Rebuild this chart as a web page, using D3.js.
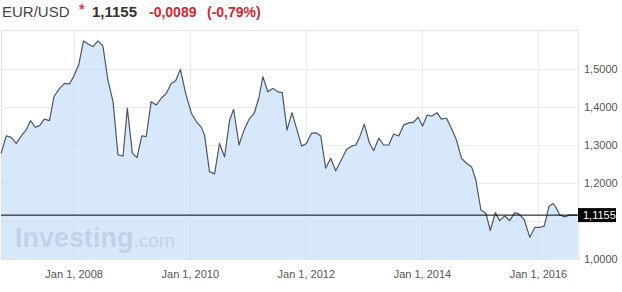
<!DOCTYPE html>
<html>
<head>
<meta charset="utf-8">
<script src="https://cdn.jsdelivr.net/npm/d3@7"></script>
<style>
  body { margin: 0; background: #fff; }
  svg { display: block; font-family: "Liberation Sans", Arial, sans-serif; }
</style>
</head>
<body>
<script>
// EUR/USD, valeurs (environ une par mois)
var dates = [
"2006-10-02","2006-11-03","2006-12-04","2007-01-05","2007-02-06","2007-03-07","2007-04-04","2007-05-05","2007-06-01","2007-07-01",
"2007-08-02","2007-08-30","2007-10-01","2007-11-05","2007-12-06","2008-01-01","2008-02-02","2008-03-03","2008-04-01","2008-05-01",
"2008-06-02","2008-07-03","2008-08-04","2008-09-05","2008-10-06","2008-11-07","2008-12-04","2009-01-05","2009-02-03","2009-03-05",
"2009-04-02","2009-05-03","2009-06-04","2009-07-05","2009-08-06","2009-09-07","2009-10-04","2009-11-03","2009-12-06","2010-01-12",
"2010-02-12","2010-03-14","2010-04-04","2010-05-05","2010-06-06","2010-07-07","2010-08-08","2010-09-09","2010-10-04","2010-11-07",
"2010-12-08","2011-01-09","2011-02-10","2011-03-11","2011-04-06","2011-05-07","2011-06-08","2011-07-09","2011-08-06","2011-09-05",
"2011-10-06","2011-11-07","2011-12-06","2012-01-05","2012-02-06","2012-03-07","2012-04-04","2012-05-05","2012-06-06","2012-07-07",
"2012-08-13","2012-09-14","2012-10-15","2012-11-11","2012-12-06","2013-01-03","2013-02-04","2013-03-03","2013-04-04","2013-05-05",
"2013-06-06","2013-07-07","2013-08-08","2013-09-09","2013-10-16","2013-11-07","2013-12-08","2014-01-05","2014-02-03","2014-03-05",
"2014-04-06","2014-05-03","2014-06-04","2014-07-05","2014-08-06","2014-09-07","2014-10-08","2014-11-09","2014-12-06","2015-01-07",
"2015-02-08","2015-03-07","2015-04-08","2015-05-05","2015-06-06","2015-07-07","2015-08-08","2015-09-05","2015-10-06","2015-11-11",
"2015-12-12","2016-01-14","2016-02-10","2016-03-11","2016-04-06","2016-04-27","2016-05-17","2016-06-18","2016-07-19","2016-09-06"
];
var rates = [
1.278,1.324,1.320,1.304,1.324,1.339,1.364,1.347,1.351,1.368,
1.364,1.427,1.447,1.462,1.461,1.480,1.511,1.574,1.566,1.559,
1.574,1.561,1.471,1.414,1.274,1.271,1.397,1.278,1.267,1.324,
1.322,1.414,1.405,1.423,1.436,1.462,1.469,1.499,1.436,1.383,
1.361,1.347,1.326,1.230,1.224,1.304,1.269,1.366,1.394,1.300,
1.339,1.368,1.383,1.423,1.480,1.440,1.449,1.440,1.438,1.339,
1.385,1.339,1.297,1.304,1.331,1.332,1.324,1.239,1.265,1.232,
1.262,1.289,1.297,1.300,1.322,1.355,1.306,1.285,1.318,1.300,
1.300,1.329,1.324,1.353,1.359,1.359,1.373,1.350,1.379,1.376,
1.385,1.368,1.371,1.344,1.313,1.265,1.252,1.243,1.208,1.129,
1.120,1.075,1.122,1.101,1.113,1.101,1.122,1.118,1.104,1.057,
1.083,1.083,1.087,1.139,1.146,1.133,1.116,1.111,1.116,1.1155
];
var yTicks = [1.0, 1.2, 1.3, 1.4, 1.5];
var yGrid = [1.1, 1.2, 1.3, 1.4, 1.5];
var xTicks = ["2008-01-01","2010-01-01","2012-01-01","2014-01-01","2016-01-01"];
var lastRate = 1.1155;
var header = { pair: "EUR/USD", price: "1,1155", change: "-0,0089", pct: "(-0,79%)" };

var larg = 622, haut = 292;
var pLeft = 1, pRight = 578, pTop = 31, pBottom = 259;

var parse = d3.timeParse("%Y-%m-%d");
var data = dates.map(function(d, i) { return { date: parse(d), v: rates[i] }; });

var fr = d3.formatLocale({ decimal: ",", thousands: " ", grouping: [3], currency: ["", "€"] });
var fmt = fr.format(".4f");

var xScale = d3.scaleTime()
	.domain([parse("2006-10-01"), parse("2016-09-09")])
	.range([pLeft, pRight]);

var yScale = d3.scaleLinear()
	.domain([1.0, 1.6])
	.range([pBottom, pTop]);

var svg = d3.select("body")
	.append("svg")
	.attr("width", larg)
	.attr("height", haut);

// en-tête
svg.append("text").attr("x", 2).attr("y", 17).attr("font-size", "15px")
	.attr("fill", "#444").text(header.pair);
svg.append("text").attr("x", 79).attr("y", 14).attr("font-size", "14px").attr("font-weight", "bold")
	.attr("fill", "#e5333a").text("*");
svg.append("text").attr("x", 92).attr("y", 17).attr("font-size", "15px").attr("font-weight", "bold")
	.attr("fill", "#333").text(header.price);
svg.append("text").attr("x", 149).attr("y", 17).attr("font-size", "14px").attr("font-weight", "bold")
	.attr("fill", "#d4262e").text(header.change);
svg.append("text").attr("x", 207).attr("y", 17).attr("font-size", "14px").attr("font-weight", "bold")
	.attr("fill", "#d4262e").text(header.pct);

// cadre + grilles
svg.append("rect")
	.attr("x", pLeft + 0.5).attr("y", pTop - 0.5)
	.attr("width", pRight - pLeft).attr("height", pBottom - pTop + 1)
	.attr("fill", "none").attr("stroke", "#e4e4e4");

svg.selectAll("line.gy")
	.data(yGrid)
	.enter()
	.append("line")
	.attr("class", "gy")
	.attr("x1", pLeft).attr("x2", pRight)
	.attr("y1", function(d) { return Math.round(yScale(d)) + 0.5; })
	.attr("y2", function(d) { return Math.round(yScale(d)) + 0.5; })
	.attr("stroke", "#ebebeb");

svg.selectAll("line.gx")
	.data(xTicks)
	.enter()
	.append("line")
	.attr("class", "gx")
	.attr("x1", function(d) { return Math.round(xScale(parse(d))) + 0.5; })
	.attr("x2", function(d) { return Math.round(xScale(parse(d))) + 0.5; })
	.attr("y1", pTop).attr("y2", pBottom)
	.attr("stroke", "#ebebeb");

// aire + ligne
var area = d3.area()
	.x(function(d) { return xScale(d.date); })
	.y0(pBottom)
	.y1(function(d) { return yScale(d.v); });

var line = d3.line()
	.x(function(d) { return xScale(d.date); })
	.y(function(d) { return yScale(d.v); });

svg.append("path")
	.datum(data)
	.attr("d", area)
	.attr("fill", "#c6defa")
	.attr("fill-opacity", 0.7);

// filigrane
var wm = svg.append("text").attr("x", 15).attr("y", 247).attr("fill", "#b3c2d8").attr("fill-opacity", 0.6);
wm.append("tspan").attr("font-size", "27px").attr("font-weight", "bold").text("Investing");
wm.append("tspan").attr("font-size", "19px").text(".com");

svg.append("path")
	.datum(data)
	.attr("d", line)
	.attr("fill", "none")
	.attr("stroke", "#4d5666")
	.attr("stroke-width", 1.2)
	.attr("stroke-linejoin", "round");

// ligne du dernier cours
svg.append("line")
	.attr("x1", pLeft).attr("x2", pRight)
	.attr("y1", yScale(lastRate)).attr("y2", yScale(lastRate))
	.attr("stroke", "#000").attr("stroke-width", 1);

// axes
var yAxis = d3.axisRight(yScale)
	.tickValues(yTicks)
	.tickSize(0)
	.tickPadding(6)
	.tickFormat(fmt);

svg.append("g")
	.attr("transform", "translate(" + pRight + ",0)")
	.call(yAxis)
	.call(function(g) { g.select(".domain").remove(); })
	.selectAll("text")
	.attr("font-family", "Liberation Sans, Arial, sans-serif")
	.attr("font-size", "11px")
	.attr("fill", "#555");

var xAxis = d3.axisBottom(xScale)
	.tickValues(xTicks.map(parse))
	.tickSize(0)
	.tickPadding(11)
	.tickFormat(d3.timeFormat("%b %-d, %Y"));

svg.append("g")
	.attr("transform", "translate(0," + pBottom + ")")
	.call(xAxis)
	.call(function(g) { g.select(".domain").remove(); })
	.selectAll("text")
	.attr("font-family", "Liberation Sans, Arial, sans-serif")
	.attr("font-size", "11px")
	.attr("fill", "#555");

// étiquette du dernier cours
var ly = yScale(lastRate);
svg.append("rect")
	.attr("x", pRight).attr("y", ly - 7)
	.attr("width", 38).attr("height", 14)
	.attr("fill", "#000");
svg.append("text")
	.attr("x", pRight + 5).attr("y", ly + 4)
	.attr("font-size", "11px")
	.attr("fill", "#fff")
	.text(fmt(lastRate));
</script>
</body>
</html>
